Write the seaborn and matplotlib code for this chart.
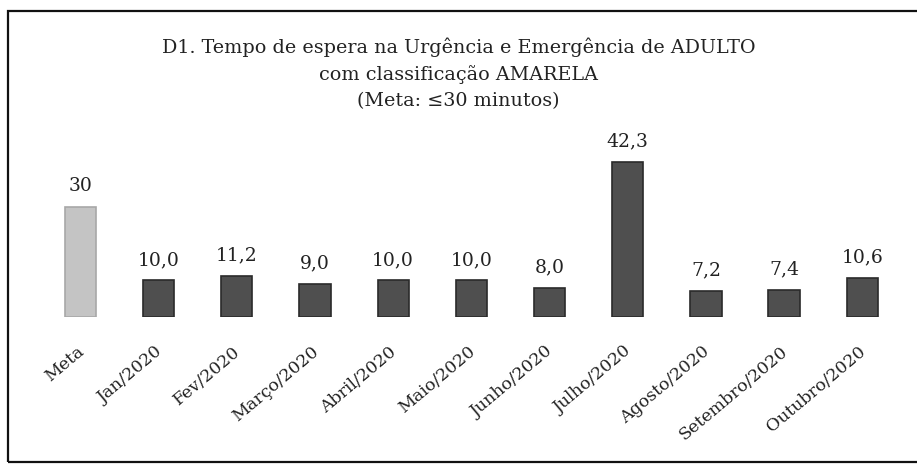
import matplotlib
matplotlib.use("Agg")
import matplotlib.pyplot as plt
import matplotlib.transforms as mtransforms
from matplotlib.patches import Rectangle
import seaborn as sns
import pandas as pd

categories = ["Meta", "Jan/2020", "Fev/2020", "Março/2020", "Abril/2020", "Maio/2020",
              "Junho/2020", "Julho/2020", "Agosto/2020", "Setembro/2020", "Outubro/2020"]
values = [30, 10.0, 11.2, 9.0, 10.0, 10.0, 8.0, 42.3, 7.2, 7.4, 10.6]
labels = ["30", "10,0", "11,2", "9,0", "10,0", "10,0", "8,0", "42,3", "7,2", "7,4", "10,6"]
kind = ["Meta"] + ["Real"] * 10

title = "D1. Tempo de espera na Urgência e Emergência de ADULTO\ncom classificação AMARELA\n(Meta: ≤30 minutos)"

sns.set_theme(style="white")
plt.rcParams["font.family"] = ["DejaVu Serif"]

df = pd.DataFrame({"cat": categories, "val": values, "kind": kind})

fig = plt.figure(figsize=(9.17, 4.77), dpi=100)
ax = fig.add_axes([0.045, 0.333, 0.938, 0.385])
sns.barplot(data=df, x="cat", y="val", hue="kind",
            palette={"Meta": "#c4c4c4", "Real": "#4f4f4f"},
            width=0.4, dodge=False, legend=False, ax=ax,
            edgecolor="#2a2a2a", linewidth=1.2)
for p in ax.patches:
    if abs(p.get_height() - 30) < 1e-6:
        p.set_edgecolor("#a8a8a8")

ax.set_ylim(0, 50)
ax.set_xlim(-0.5, len(categories) - 0.5)
ax.set_xlabel("")
ax.set_ylabel("")
ax.set_yticks([])
for s in ax.spines.values():
    s.set_visible(False)

for i, (v, lab) in enumerate(zip(values, labels)):
    ax.annotate(lab, (i, v), xytext=(0, 9), textcoords="offset points",
                ha="center", va="bottom", fontsize=13.5, color="#222222")

ax.set_xticks(range(len(categories)))
ax.set_xticklabels(categories, rotation=40, ha="right", rotation_mode="anchor",
                   fontsize=12.5, color="#222222")
ax.tick_params(axis="x", length=0, pad=18)
offset = mtransforms.ScaledTranslation(-4 / 100, 0, fig.dpi_scale_trans)
for t in ax.get_xticklabels():
    t.set_transform(t.get_transform() + offset)

fig.text(0.5, 0.922, title, ha="center", va="top", fontsize=13.8,
         color="#222222", linespacing=1.55)

fig.patches.append(Rectangle((0.009, 0.03), 1.1, 0.945, transform=fig.transFigure,
                             fill=False, edgecolor="#111111", linewidth=1.6))

fig.savefig("out.png", dpi=100, facecolor="white")
